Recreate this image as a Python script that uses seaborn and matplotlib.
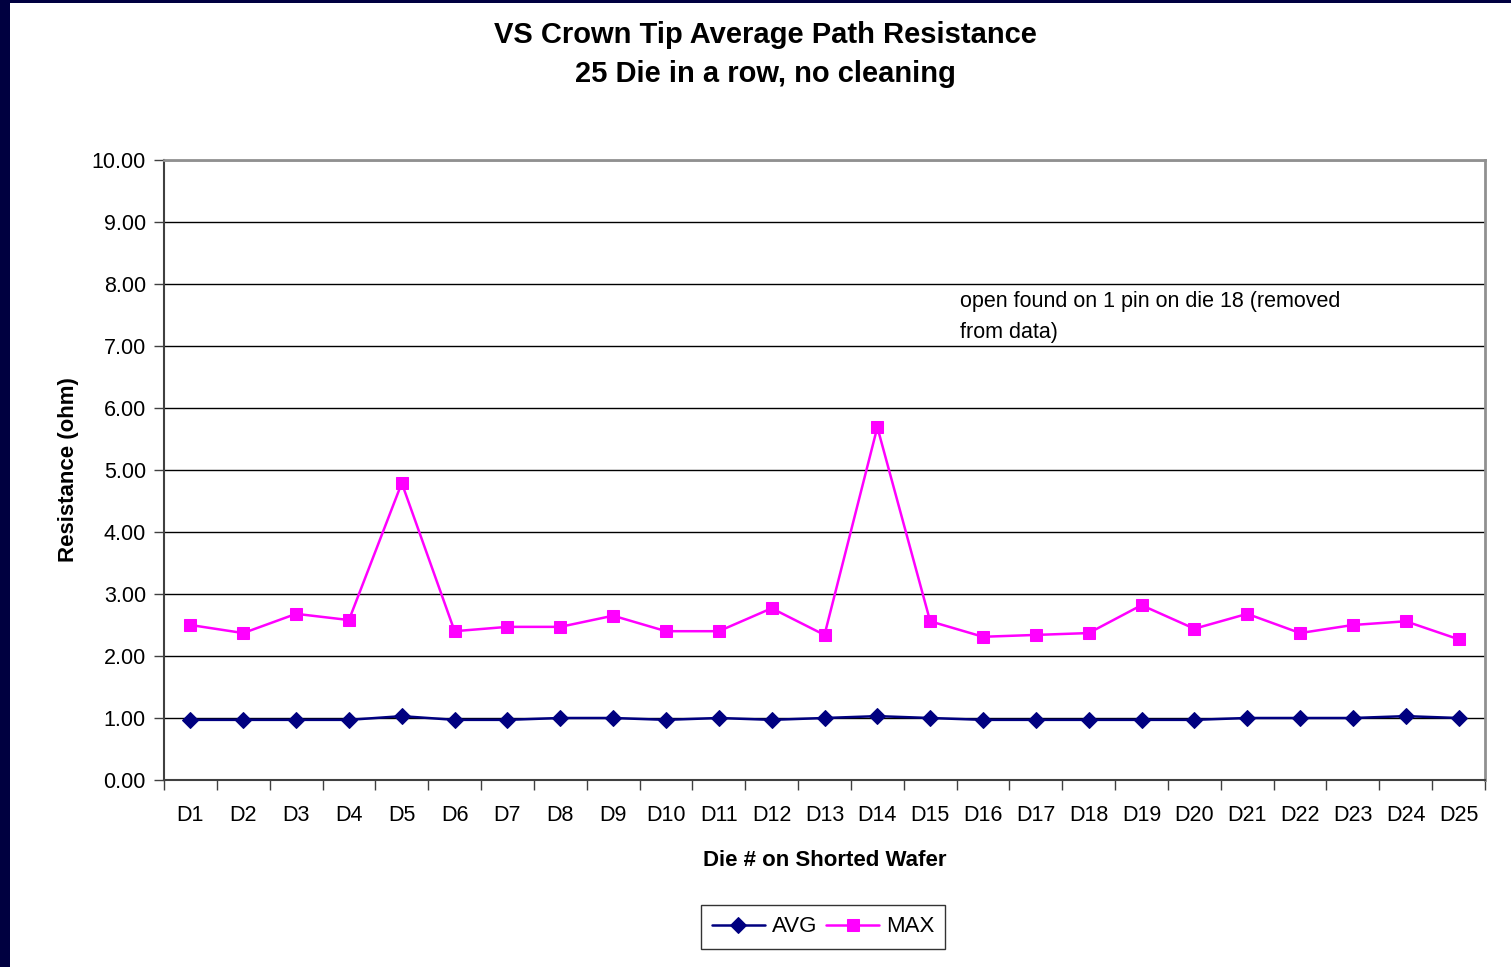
import pandas as pd
import numpy as np
import matplotlib.pyplot as plt
import seaborn as sns
from matplotlib.patches import Rectangle

sns.set_theme(style="white")
plt.rcParams['font.family'] = ['Liberation Sans', 'DejaVu Sans']
plt.rcParams['text.color'] = 'black'
plt.rcParams['axes.labelcolor'] = 'black'
plt.rcParams['xtick.color'] = 'black'
plt.rcParams['ytick.color'] = 'black'

# data
dies = [f"D{i}" for i in range(1, 26)]
avg_vals = [0.97, 0.97, 0.97, 0.97, 1.03, 0.97, 0.97, 1.00, 1.00, 0.97,
            1.00, 0.97, 1.00, 1.03, 1.00, 0.97, 0.97, 0.97, 0.97, 0.97,
            1.00, 1.00, 1.00, 1.03, 1.00]
max_vals = [2.50, 2.37, 2.68, 2.58, 4.79, 2.40, 2.47, 2.47, 2.65, 2.40,
            2.40, 2.77, 2.34, 5.69, 2.56, 2.31, 2.34, 2.37, 2.82, 2.44,
            2.68, 2.37, 2.50, 2.56, 2.27]
yticks = np.arange(0, 11, 1.0)

df = pd.DataFrame({'Die': dies, 'AVG': avg_vals, 'MAX': max_vals})

fig = plt.figure(figsize=(15.11, 9.67), dpi=100)

# dark slide border (left and top)
fig.patches.append(Rectangle((0, 0), 10 / 1511, 1, transform=fig.transFigure,
                             facecolor='#000040', edgecolor='none', zorder=0))
fig.patches.append(Rectangle((0, 1 - 3 / 967), 1, 3 / 967, transform=fig.transFigure,
                             facecolor='#000040', edgecolor='none', zorder=0))

ax = fig.add_axes([164 / 1511, 1 - 780 / 967, (1485 - 164) / 1511, (780 - 160) / 967])

sns.lineplot(data=df, x='Die', y='AVG', ax=ax, color='#000080', marker='D',
             markersize=8, markeredgecolor='#000080', linewidth=1.8, sort=False, label='AVG')
sns.lineplot(data=df, x='Die', y='MAX', ax=ax, color='#FF00FF', marker='s',
             markersize=9, markeredgecolor='#FF00FF', linewidth=1.8, sort=False, label='MAX')

ax.set_xlim(-0.5, len(dies) - 0.5)
ax.set_ylim(0, 10)
ax.set_yticks(yticks)
ax.set_yticklabels([f"{v:.2f}" for v in yticks], fontsize=15.5)
ax.set_xticks(range(len(dies)))
ax.set_xticklabels(dies, fontsize=15.5)
ax.set_xticks(np.arange(-0.5, len(dies), 1), minor=True)
ax.tick_params(axis='x', which='major', length=0, pad=18)
ax.tick_params(axis='x', which='minor', length=7, width=1, color='#404040', direction='out', bottom=True)
ax.tick_params(axis='y', length=7, width=1, color='#404040', direction='out', left=True, pad=6)
ax.grid(axis='y', color='black', linewidth=1)
ax.set_axisbelow(True)

for side in ['left', 'bottom']:
    ax.spines[side].set_color('#404040')
    ax.spines[side].set_linewidth(1.5)
for side in ['top', 'right']:
    ax.spines[side].set_color('#909090')
    ax.spines[side].set_linewidth(2)

ax.set_xlabel('Die # on Shorted Wafer', fontsize=16, fontweight='bold', labelpad=17)
ax.set_ylabel('Resistance (ohm)', fontsize=16, fontweight='bold', labelpad=9)

ax.text(14.56, 7.88, 'open found on 1 pin on die 18 (removed\nfrom data)', fontsize=15.5,
        ha='left', va='top', linespacing=1.6)

fig.text(765 / 1511, 1 - 35 / 967, 'VS Crown Tip Average Path Resistance', ha='center', va='center',
         fontsize=21, fontweight='bold')
fig.text(765 / 1511, 1 - 74 / 967, '25 Die in a row, no cleaning', ha='center', va='center',
         fontsize=21, fontweight='bold')

ax.get_legend().remove()
handles, labels = ax.get_legend_handles_labels()
leg = fig.legend(handles, labels, loc='center', bbox_to_anchor=(823 / 1511, 1 - 927 / 967), ncol=2,
                 fontsize=16, frameon=True, fancybox=False, edgecolor='black', handlelength=2.4,
                 columnspacing=0.4, handletextpad=0.3, borderpad=0.5, borderaxespad=0)
leg.get_frame().set_linewidth(1)

fig.savefig('out.png', dpi=100)
